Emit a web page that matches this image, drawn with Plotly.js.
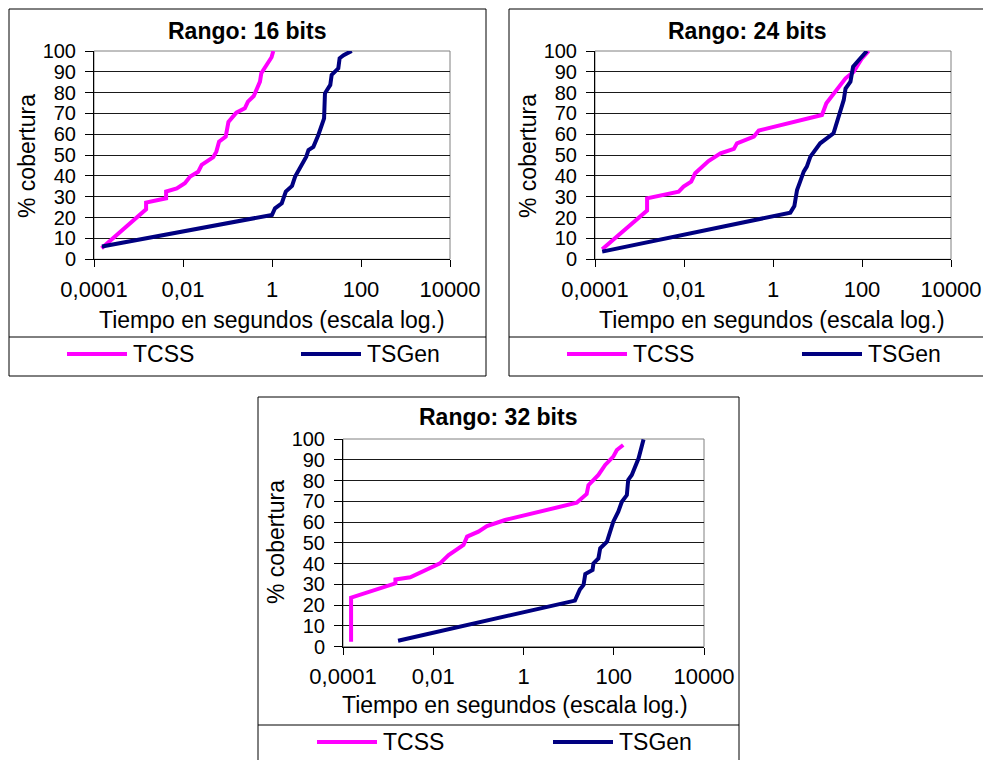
<!DOCTYPE html>
<html><head><meta charset="utf-8">
<script src="https://cdn.plot.ly/plotly-3.0.1.min.js"></script>
<style>html,body{margin:0;padding:0;background:#fff}#chart{width:983px;height:760px}</style>
</head><body><div id="chart"></div>
<script>
// ---- data (time in seconds, coverage in %) ----
const seriesNames = ["TCSS", "TSGen"];
const panelTitles = ["Rango: 16 bits", "Rango: 24 bits", "Rango: 32 bits"];
const xTickVals = [0.0001, 0.01, 1, 100, 10000];
const xTickText = ["0,0001", "0,01", "1", "100", "10000"];
const yTickVals = [0, 10, 20, 30, 40, 50, 60, 70, 80, 90, 100];

const x16_tcss = [0.000148, 0.00148, 0.00148, 0.00417, 0.00417, 0.00724, 0.0110, 0.0145, 0.0219, 0.0263, 0.0479, 0.0562, 0.0646, 0.0912, 0.105, 0.123, 0.158, 0.245, 0.288, 0.389, 0.537, 0.575, 0.813, 0.977, 1.07];
const y16_tcss = [5.3, 24, 27.2, 29.3, 32.5, 34, 36.5, 39.7, 42, 45.3, 49, 51.7, 56.5, 58.9, 66, 68, 70.4, 72.5, 75.7, 78.4, 85.3, 89.3, 94, 97, 100];
const x16_tsgen = [0.000151, 1.0, 1.17, 1.66, 2.04, 2.82, 3.31, 4.68, 5.89, 6.61, 8.51, 11.0, 13.2, 14.8, 15.5, 20.4, 21.9, 30.9, 33.1, 40.7, 61.7];
const y16_tsgen = [6.1, 21.3, 24.5, 26.9, 32.5, 35.2, 39.7, 46, 49.3, 52.5, 54, 59.7, 65.3, 67.7, 79.7, 83.7, 88.5, 91.7, 96.5, 98, 100];

const x24_tcss = [0.000145, 0.00148, 0.00148, 0.00759, 0.00977, 0.0145, 0.0178, 0.0355, 0.0661, 0.132, 0.155, 0.372, 0.479, 12.6, 15.8, 19.5, 22.9, 42.7, 64.6, 100, 141];
const y24_tcss = [4.8, 23.4, 29.3, 32.5, 34.9, 37.3, 41.3, 47.2, 50.9, 53, 55.7, 58.9, 61.8, 69.3, 74.9, 77.3, 79.7, 86.9, 90, 96.5, 100];
const x24_tsgen = [0.000145, 2.45, 3.02, 3.47, 4.07, 4.90, 5.75, 6.92, 11.5, 22.9, 38.9, 42.7, 55.0, 63.1, 85.1, 129];
const y24_tsgen = [3.7, 22.4, 25.6, 33.3, 37.3, 42.1, 44.5, 49.3, 55.7, 60.5, 76.5, 82, 85.3, 92.5, 95.7, 100];

const x32_tcss = [0.000151, 0.000151, 0.00145, 0.00145, 0.00309, 0.0141, 0.0219, 0.0468, 0.0562, 0.1, 0.155, 0.389, 15.1, 25.1, 27.5, 45.7, 64.6, 97.7, 117, 162];
const y32_tcss = [2.4, 23.6, 30.5, 32.4, 33.4, 40.1, 44.1, 49, 53, 55.4, 58.1, 61, 69.3, 73.5, 77.8, 82.7, 87.5, 91.5, 94.7, 97.1];
const x32_tsgen = [0.00166, 13.8, 17.8, 21.4, 23.4, 33.9, 35.5, 45.7, 50.1, 70.8, 97.7, 126, 151, 195, 209, 251, 355, 427, 457];
const y32_tsgen = [2.9, 22.2, 27.6, 29.7, 35, 36.9, 40.1, 42.5, 47.4, 50.6, 60.2, 65, 69.8, 73, 80.3, 82.7, 90.7, 96.3, 99.8];

const colors = ["#FF00FF", "#000080"];

// ---- layout geometry (pixels) ----
const W = 983, H = 760;
const X = v => v / W, Y = v => 1 - v / H;
const FONT = "Liberation Sans, Arial, sans-serif";
const FS = 23;

const panels = [
  {box:[9, 9, 486, 376], sep:337, plot:[94, 51, 450, 259.3], title:[247, 31], xt:[272, 320], yt:[27, 156], leg:[354, 67, 301]},
  {box:[509, 9, 992, 376], sep:337, plot:[595, 51, 951, 259.3], title:[747, 31], xt:[772, 320], yt:[528, 156], leg:[354, 567, 802]},
  {box:[258, 397, 739, 770], sep:725, plot:[343, 439, 704, 646.7], title:[498, 417], xt:[515, 705], yt:[276, 542], leg:[742, 317, 553]}
];
const data_ = [[x16_tcss, y16_tcss, x16_tsgen, y16_tsgen],
               [x24_tcss, y24_tcss, x24_tsgen, y24_tsgen],
               [x32_tcss, y32_tcss, x32_tsgen, y32_tsgen]];

const traces = [];
const layout = {
  width: W, height: H, margin: {l:0, r:0, t:0, b:0},
  paper_bgcolor: "#fff", plot_bgcolor: "#fff",
  showlegend: false, font: {family: FONT, size: FS, color: "#000"},
  shapes: [], annotations: []
};

panels.forEach((p, i) => {
  const n = i === 0 ? "" : String(i + 1);
  const d = data_[i];
  [0, 1].forEach(s => {
    traces.push({
      x: d[s*2], y: d[s*2+1], name: seriesNames[s], type: "scatter", mode: "lines",
      xaxis: "x" + n, yaxis: "y" + n,
      line: {color: colors[s], width: 4}
    });
  });
  layout["xaxis" + n] = {
    type: "log", range: [-4, 4], domain: [X(p.plot[0]), X(p.plot[2])],
    anchor: "y" + n, tickvals: xTickVals, ticktext: xTickText,
    ticks: "outside", ticklen: 7, tickcolor: "#000", tickwidth: 1,
    showline: true, linecolor: "#000", linewidth: 1, showgrid: false, zeroline: false,
    tickfont: {family: FONT, size: 22, color: "#000"}, ticklabelstandoff: 3
  };
  layout["yaxis" + n] = {
    range: [0, 100], domain: [Y(p.plot[3]), Y(p.plot[1])],
    anchor: "x" + n, tickvals: yTickVals,
    ticks: "outside", ticklen: 8, tickcolor: "#000", tickwidth: 1,
    showline: true, linecolor: "#000", linewidth: 1,
    showgrid: true, gridcolor: "#1a1a1a", gridwidth: 1, zeroline: false,
    tickfont: {family: FONT, size: 20, color: "#000"}, ticklabelstandoff: 5
  };
  // plot-area frame (top/right grey)
  layout.shapes.push({type:"rect", xref:"paper", yref:"paper",
    x0:X(p.plot[0]), x1:X(p.plot[2]), y0:Y(p.plot[3]), y1:Y(p.plot[1]),
    line:{color:"#808080", width:1}, layer:"below"});
  // outer box
  layout.shapes.push({type:"rect", xref:"paper", yref:"paper",
    x0:X(p.box[0]), x1:X(p.box[2]), y0:Y(p.box[3]), y1:Y(p.box[1]),
    line:{color:"#000", width:1}});
  layout.shapes.push({type:"line", xref:"paper", yref:"paper",
    x0:X(p.box[0]), x1:X(p.box[2]), y0:Y(p.sep), y1:Y(p.sep),
    line:{color:"#000", width:1}});
  // title
  layout.annotations.push({text:"<b>" + panelTitles[i] + "</b>", xref:"paper", yref:"paper",
    x:X(p.title[0]), y:Y(p.title[1]), xanchor:"center", yanchor:"middle", showarrow:false,
    font:{family:FONT, size:FS, color:"#000"}});
  layout.annotations.push({text:"Tiempo en segundos (escala log.)", xref:"paper", yref:"paper",
    x:X(p.xt[0]), y:Y(p.xt[1]), xanchor:"center", yanchor:"middle", showarrow:false,
    font:{family:FONT, size:FS, color:"#000"}});
  layout.annotations.push({text:"% cobertura", xref:"paper", yref:"paper", textangle:-90,
    x:X(p.yt[0]), y:Y(p.yt[1]), xanchor:"center", yanchor:"middle", showarrow:false,
    font:{family:FONT, size:FS, color:"#000"}});
  // legend keys
  [0, 1].forEach(s => {
    const lx = p.leg[1 + s];
    layout.shapes.push({type:"line", xref:"paper", yref:"paper",
      x0:X(lx), x1:X(lx + 60), y0:Y(p.leg[0]), y1:Y(p.leg[0]),
      line:{color:colors[s], width:4}});
    layout.annotations.push({text:seriesNames[s], xref:"paper", yref:"paper",
      x:X(lx + 64), y:Y(p.leg[0]), xanchor:"left", yanchor:"middle", showarrow:false,
      font:{family:FONT, size:FS, color:"#000"}});
  });
});

Plotly.newPlot("chart", traces, layout, {staticPlot: true});
</script></body></html>
